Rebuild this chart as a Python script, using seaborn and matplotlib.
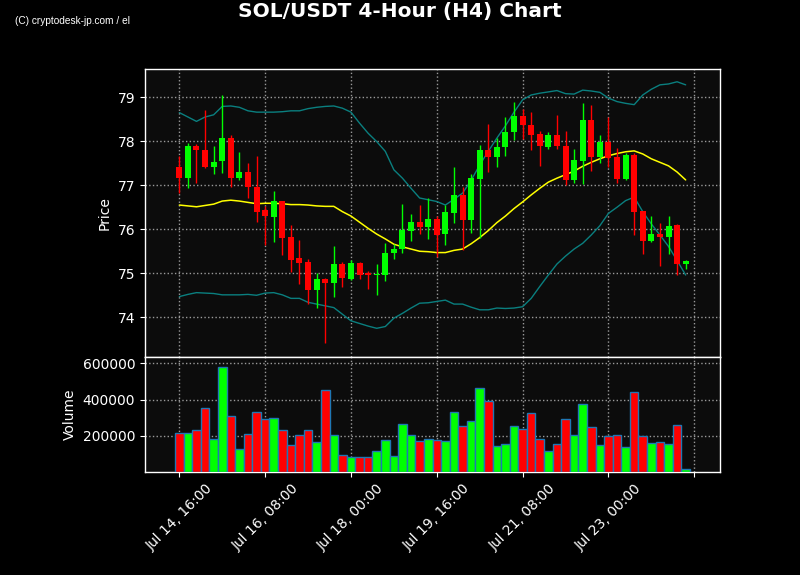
import numpy as np
import pandas as pd
import matplotlib
matplotlib.use('Agg')
import matplotlib.pyplot as plt
import seaborn as sns

# 4-hour candles
opens = [77.42, 77.17, 77.89, 77.80, 77.42, 77.54, 78.08, 77.17, 77.30, 76.97,
         76.44, 76.27, 76.64, 75.83, 75.35, 75.26, 74.63, 74.87, 74.79, 75.21,
         74.88, 75.24, 75.00, 74.96, 74.96, 75.45, 75.55, 75.95, 76.17, 76.06,
         76.24, 75.90, 76.38, 76.78, 76.22, 77.15, 77.79, 77.65, 77.86, 78.20,
         78.58, 78.37, 78.17, 77.86, 78.14, 77.89, 77.11, 77.56, 78.49, 77.65,
         77.99, 77.63, 77.15, 77.69, 76.42, 75.74, 75.90, 75.83, 76.10, 75.20]
highs = [77.66, 77.96, 77.93, 78.71, 77.90, 79.05, 78.14, 77.75, 77.50, 77.66,
         76.52, 76.86, 76.64, 76.09, 75.75, 75.33, 75.00, 74.90, 75.61, 75.25,
         75.30, 75.26, 75.05, 75.21, 75.68, 75.67, 76.58, 76.34, 76.55, 76.71,
         76.30, 76.55, 77.41, 76.96, 77.26, 77.92, 78.39, 78.07, 78.56, 78.88,
         78.74, 78.66, 78.24, 78.20, 78.60, 78.23, 77.82, 78.86, 78.82, 78.14,
         78.55, 77.84, 77.74, 77.74, 76.42, 76.30, 76.14, 76.30, 76.12, 75.30]
lows = [76.82, 76.93, 77.05, 77.40, 77.25, 77.27, 76.95, 77.11, 76.71, 76.16,
        75.64, 75.71, 75.41, 75.02, 74.75, 74.30, 74.21, 73.41, 74.47, 74.69,
        74.85, 74.88, 74.65, 74.50, 74.83, 75.33, 75.45, 75.74, 75.90, 75.77,
        75.38, 75.64, 76.14, 75.52, 75.91, 75.80, 77.30, 77.42, 77.66, 78.03,
        78.05, 77.80, 77.44, 77.82, 77.82, 77.00, 77.06, 77.03, 77.32, 77.50,
        77.41, 77.05, 77.11, 75.86, 75.43, 75.72, 75.17, 75.43, 74.97, 75.09]
closes = [77.17, 77.89, 77.79, 77.42, 77.53, 78.08, 77.17, 77.30, 76.95, 76.40,
          76.29, 76.64, 75.81, 75.31, 75.24, 74.61, 74.87, 74.77, 75.21, 74.89,
          75.24, 74.97, 74.97, 74.99, 75.47, 75.54, 75.99, 76.17, 76.06, 76.24,
          75.88, 76.39, 76.78, 76.22, 77.17, 77.79, 77.63, 77.87, 78.22, 78.58,
          78.36, 78.14, 77.88, 78.14, 77.88, 77.11, 77.58, 78.49, 77.65, 77.99,
          77.61, 77.15, 77.69, 76.40, 75.74, 75.89, 75.83, 76.08, 75.20, 75.28]
volumes = [213800, 213800, 230400, 352000, 180600, 578800, 307800, 125300, 208300, 330000,
           291200, 296800, 230400, 147500, 202800, 230400, 164000, 451600, 202800, 92200,
           81100, 81100, 81100, 114300, 175100, 86600, 263600, 202800, 169600, 180600,
           175100, 169600, 330000, 252500, 280200, 462700, 390800, 141900, 153000, 252500,
           236000, 324400, 180600, 114300, 153000, 291200, 202800, 374200, 247000, 147500,
           197200, 202800, 136400, 440600, 197200, 158500, 164000, 153000, 258100, 14700]
sma = [76.55, 76.53, 76.51, 76.54, 76.57, 76.64, 76.66, 76.64, 76.61, 76.58,
       76.59, 76.59, 76.58, 76.56, 76.56, 76.55, 76.53, 76.52, 76.52, 76.40,
       76.30, 76.16, 76.02, 75.89, 75.78, 75.66, 75.60, 75.55, 75.50, 75.49,
       75.47, 75.47, 75.52, 75.55, 75.67, 75.81, 75.97, 76.15, 76.30, 76.47,
       76.62, 76.78, 76.93, 77.07, 77.16, 77.24, 77.32, 77.43, 77.52, 77.60,
       77.67, 77.72, 77.76, 77.78, 77.71, 77.60, 77.52, 77.44, 77.30, 77.12]
upper = [78.65, 78.55, 78.45, 78.55, 78.60, 78.79, 78.80, 78.77, 78.69, 78.66,
         78.66, 78.66, 78.67, 78.69, 78.69, 78.74, 78.77, 78.79, 78.80, 78.75,
         78.66, 78.41, 78.18, 77.99, 77.77, 77.35, 77.16, 76.93, 76.71, 76.67,
         76.63, 76.55, 76.68, 76.82, 77.11, 77.46, 77.77, 78.07, 78.35, 78.66,
         78.94, 79.05, 79.09, 79.12, 79.15, 79.08, 79.07, 79.16, 79.14, 79.11,
         78.98, 78.90, 78.86, 78.83, 79.05, 79.18, 79.28, 79.30, 79.35, 79.28]
lower = [74.47, 74.52, 74.56, 74.55, 74.54, 74.51, 74.51, 74.51, 74.52, 74.50,
         74.55, 74.56, 74.51, 74.43, 74.43, 74.34, 74.30, 74.26, 74.22, 74.07,
         73.92, 73.86, 73.80, 73.75, 73.79, 73.98, 74.09, 74.21, 74.32, 74.33,
         74.36, 74.39, 74.30, 74.30, 74.23, 74.17, 74.17, 74.21, 74.20, 74.21,
         74.24, 74.43, 74.70, 74.96, 75.21, 75.39, 75.55, 75.68, 75.87, 76.08,
         76.36, 76.50, 76.65, 76.73, 76.40, 76.12, 75.87, 75.61, 75.29, 74.96]

start_time = '2025-07-14 16:00'

df = pd.DataFrame({'Open': opens, 'High': highs, 'Low': lows, 'Close': closes,
                   'Volume': volumes, 'SMA': sma, 'Upper': upper, 'Lower': lower})
df['Time'] = pd.date_range(start_time, periods=len(df), freq='4h')
idx = np.arange(len(df))

sns.set_style('ticks', rc={'figure.facecolor': 'black',
                           'axes.facecolor': '#0c0c0c',
                           'axes.edgecolor': 'white',
                           'axes.labelcolor': 'white',
                           'text.color': 'white',
                           'xtick.color': 'white',
                           'ytick.color': 'white',
                           'axes.grid': True,
                           'grid.color': '#9a9a9a',
                           'grid.linestyle': ':'})
plt.rcParams['font.family'] = ['DejaVu Sans']

fig = plt.figure(figsize=(8, 5.75), dpi=100)
gs = fig.add_gridspec(2, 1, height_ratios=[2.5, 1], hspace=0,
                      left=0.18125, right=0.9, top=0.88, bottom=0.179)
ax1 = fig.add_subplot(gs[0])
ax2 = fig.add_subplot(gs[1], sharex=ax1)

up = df['Close'] >= df['Open']
colors = np.where(up, 'lime', 'red')

# candles
ax1.vlines(idx, df['Low'], df['High'], colors=colors, linewidth=1, zorder=3)
body = (df['Close'] - df['Open']).abs().clip(lower=0.03)
ax1.bar(idx, body, bottom=df[['Open', 'Close']].min(axis=1), width=0.7,
        color=colors, edgecolor=colors, linewidth=0, zorder=4)

# bollinger + sma
sns.lineplot(x=idx, y=df['Upper'], ax=ax1, color='#0a7f7f', linewidth=1, zorder=2)
sns.lineplot(x=idx, y=df['Lower'], ax=ax1, color='#0a7f7f', linewidth=1, zorder=2)
sns.lineplot(x=idx, y=df['SMA'], ax=ax1, color='yellow', linewidth=1.1, zorder=2)

ax1.set_ylim(73.1, 79.64)
ax1.set_yticks([74, 75, 76, 77, 78, 79])
ax1.set_ylabel('Price')
ax1.tick_params(axis='x', labelbottom=False)

# volume
ax2.bar(idx, df['Volume'], width=1.0, color=colors, edgecolor='#1f77b4',
        linewidth=1, zorder=3)
ax2.set_ylim(0, 635000)
ax2.set_yticks([200000, 400000, 600000])
ax2.set_ylabel('Volume')

ticks = list(range(0, 61, 10))
labels = [df['Time'][i].strftime('%b %d, %H:%M') if i < len(df) else '' for i in ticks]
ax2.set_xticks(ticks)
ax2.set_xticklabels(labels, rotation=45)
ax2.set_xlim(-4, 63)

for ax in (ax1, ax2):
    ax.grid(True, linestyle=':', color='#9a9a9a', linewidth=1)
    ax.set_axisbelow(True)
    for s in ax.spines.values():
        s.set_color('white')
        s.set_linewidth(1)

fig.suptitle('SOL/USDT 4-Hour (H4) Chart', fontsize=14.5, fontweight='bold',
             color='white', y=0.996)
fig.text(0.019, 0.963, '(C) cryptodesk-jp.com / el', fontsize=7.3, color='white',
         va='center', family=['Liberation Sans', 'DejaVu Sans'])

plt.savefig('out.png', dpi=100, facecolor='black')
